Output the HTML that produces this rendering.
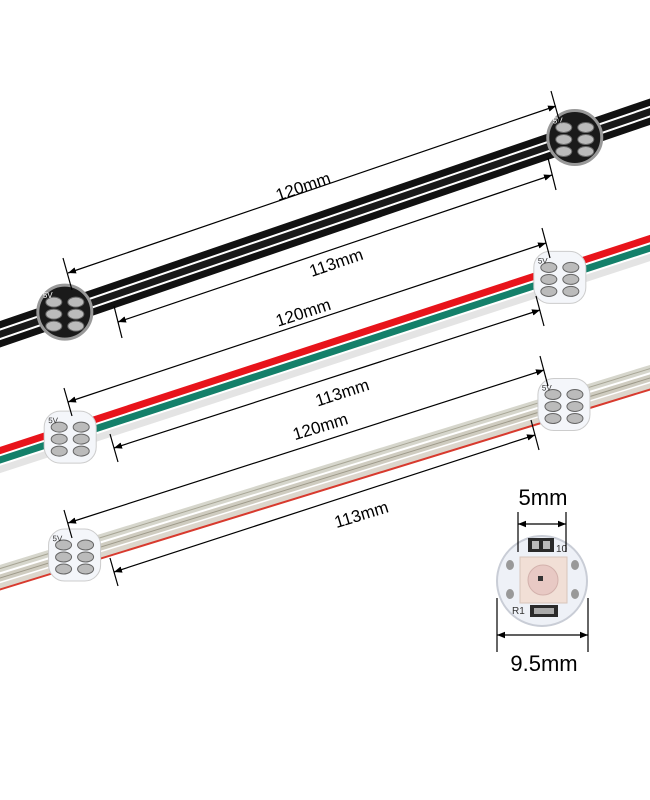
<!DOCTYPE html>
<html><head><style>
html,body{margin:0;padding:0;background:#fff;width:650px;height:800px;overflow:hidden}
text{font-family:"Liberation Sans",sans-serif}
</style></head><body>
<svg width="650" height="800" viewBox="0 0 650 800" xmlns="http://www.w3.org/2000/svg">
<defs>
<marker id="a" viewBox="0 0 10 10" refX="10" refY="5" markerWidth="8" markerHeight="8" orient="auto-start-reverse" markerUnits="userSpaceOnUse"><path d="M0,1 L10,5 L0,9 z" fill="#000"/></marker>
<g id="pads">
<ellipse cx="-11" cy="-10" rx="8" ry="5" fill="#bbb" stroke="#666"/>
<ellipse cx="11" cy="-10" rx="8" ry="5" fill="#bbb" stroke="#666"/>
<ellipse cx="-11" cy="2" rx="8" ry="5" fill="#bbb" stroke="#666"/>
<ellipse cx="11" cy="2" rx="8" ry="5" fill="#bbb" stroke="#666"/>
<ellipse cx="-11" cy="14" rx="8" ry="5" fill="#bbb" stroke="#666"/>
<ellipse cx="11" cy="14" rx="8" ry="5" fill="#bbb" stroke="#666"/>
</g>
</defs>

<g transform="translate(325,223) rotate(-18.9)">
<line x1="-420" y1="-9" x2="420" y2="-9" stroke="#111" stroke-width="7"/>
<line x1="-420" y1="0" x2="420" y2="0" stroke="#1a1a1a" stroke-width="7"/>
<line x1="-420" y1="9" x2="420" y2="9" stroke="#111" stroke-width="7"/>
<g transform="translate(-275,0) rotate(18.9)"><circle r="27" fill="#1a1a1a" stroke="#999" stroke-width="3"/><use href="#pads"/><text x="-22" y="-14" font-size="8" fill="#fff">5V</text></g>
<g transform="translate(264,0) rotate(18.9)"><circle r="27" fill="#1a1a1a" stroke="#999" stroke-width="3"/><use href="#pads"/><text x="-22" y="-14" font-size="8" fill="#fff">5V</text></g>
</g>

<g transform="translate(325,354) rotate(-18.06)">
<line x1="-420" y1="-9" x2="420" y2="-9" stroke="#e8141b" stroke-width="7"/>
<line x1="-420" y1="0" x2="420" y2="0" stroke="#14806a" stroke-width="7"/>
<line x1="-420" y1="9" x2="420" y2="9" stroke="#e4e4e4" stroke-width="7"/>
<g transform="translate(-268,0) rotate(18)"><rect x="-26" y="-26" width="52" height="52" rx="16" fill="#f4f6fa" stroke="#ccc"/><use href="#pads"/><text x="-22" y="-14" font-size="8" fill="#333">5V</text></g>
<g transform="translate(247,0) rotate(18)"><rect x="-26" y="-26" width="52" height="52" rx="16" fill="#f4f6fa" stroke="#ccc"/><use href="#pads"/><text x="-22" y="-14" font-size="8" fill="#333">5V</text></g>
</g>

<g transform="translate(325,478) rotate(-17.1)">
<line x1="-420" y1="-9" x2="420" y2="-9" stroke="#d6d6cc" stroke-width="7"/>
<line x1="-420" y1="-9" x2="420" y2="-9" stroke="#a8a696" stroke-width="1"/>
<line x1="-420" y1="0" x2="420" y2="0" stroke="#cfccc0" stroke-width="7"/>
<line x1="-420" y1="0" x2="420" y2="0" stroke="#9e9a8a" stroke-width="1"/>
<line x1="-420" y1="8" x2="420" y2="8" stroke="#dcd6cc" stroke-width="6"/>
<line x1="-420" y1="11" x2="420" y2="11" stroke="#d83a2e" stroke-width="2"/>
<g transform="translate(-262,0) rotate(17)"><rect x="-26" y="-26" width="52" height="52" rx="16" fill="#f4f6fa" stroke="#ccc"/><use href="#pads"/><text x="-22" y="-14" font-size="8" fill="#333">5V</text></g>
<g transform="translate(250,0) rotate(17)"><rect x="-26" y="-26" width="52" height="52" rx="16" fill="#f4f6fa" stroke="#ccc"/><use href="#pads"/><text x="-22" y="-14" font-size="8" fill="#333">5V</text></g>
</g>

<g stroke="#000" stroke-width="1.2" fill="none">
<line x1="68" y1="273" x2="556" y2="106" marker-start="url(#a)" marker-end="url(#a)"/>
<line x1="63" y1="258" x2="72" y2="290"/><line x1="551" y1="91" x2="560" y2="123"/>
<line x1="118" y1="322" x2="552" y2="175" marker-start="url(#a)" marker-end="url(#a)"/>
<line x1="114" y1="306" x2="122" y2="338"/><line x1="548" y1="158" x2="556" y2="190"/>
<line x1="68" y1="402" x2="546" y2="243" marker-start="url(#a)" marker-end="url(#a)"/>
<line x1="64" y1="388" x2="72" y2="416"/><line x1="542" y1="228" x2="550" y2="258"/>
<line x1="114" y1="448" x2="540" y2="310" marker-start="url(#a)" marker-end="url(#a)"/>
<line x1="110" y1="434" x2="118" y2="462"/><line x1="536" y1="296" x2="544" y2="326"/>
<line x1="68" y1="523" x2="544" y2="370" marker-start="url(#a)" marker-end="url(#a)"/>
<line x1="64" y1="510" x2="72" y2="538"/><line x1="540" y1="356" x2="548" y2="386"/>
<line x1="114" y1="572" x2="535" y2="435" marker-start="url(#a)" marker-end="url(#a)"/>
<line x1="110" y1="558" x2="118" y2="586"/><line x1="531" y1="420" x2="539" y2="450"/>
</g>
<g font-size="17" fill="#000" text-anchor="middle">
<text transform="translate(305,192) rotate(-18.9)">120mm</text>
<text transform="translate(338,268) rotate(-18.9)">113mm</text>
<text transform="translate(305,318) rotate(-18)">120mm</text>
<text transform="translate(344,398) rotate(-18)">113mm</text>
<text transform="translate(322,432) rotate(-17)">120mm</text>
<text transform="translate(363,520) rotate(-17)">113mm</text>
</g>

<circle cx="542" cy="581" r="45" fill="#eef1f7" stroke="#c9cdd6" stroke-width="2"/>
<rect x="520" y="557" width="47" height="46" fill="#f1dfd6" stroke="#d8c5bb"/>
<circle cx="543" cy="580" r="15" fill="#e8c9c4" stroke="#d3b1ac"/>
<rect x="538" y="576" width="5" height="5" fill="#333"/>
<rect x="528" y="538" width="26" height="14" fill="#2a2a2a"/>
<rect x="532" y="541" width="7" height="8" fill="#bbb"/><rect x="543" y="541" width="7" height="8" fill="#bbb"/>
<rect x="530" y="605" width="28" height="12" fill="#2a2a2a"/>
<rect x="534" y="608" width="20" height="6" fill="#aaa"/>
<text x="556" y="552" font-size="10" fill="#333">10</text>
<text x="512" y="614" font-size="10" fill="#333">R1</text>
<ellipse cx="510" cy="565" rx="4" ry="5" fill="#999"/><ellipse cx="510" cy="594" rx="4" ry="5" fill="#999"/>
<ellipse cx="575" cy="565" rx="4" ry="5" fill="#999"/><ellipse cx="575" cy="594" rx="4" ry="5" fill="#999"/>
<g stroke="#000" stroke-width="1.2">
<line x1="518" y1="512" x2="518" y2="552"/><line x1="566" y1="512" x2="566" y2="552"/>
<line x1="518" y1="524" x2="566" y2="524" marker-start="url(#a)" marker-end="url(#a)"/>
<line x1="497" y1="598" x2="497" y2="652"/><line x1="588" y1="598" x2="588" y2="652"/>
<line x1="497" y1="635" x2="588" y2="635" marker-start="url(#a)" marker-end="url(#a)"/>
</g>
<text x="543" y="505" font-size="22" text-anchor="middle">5mm</text>
<text x="544" y="671" font-size="22" text-anchor="middle">9.5mm</text>
</svg>
</body></html>
